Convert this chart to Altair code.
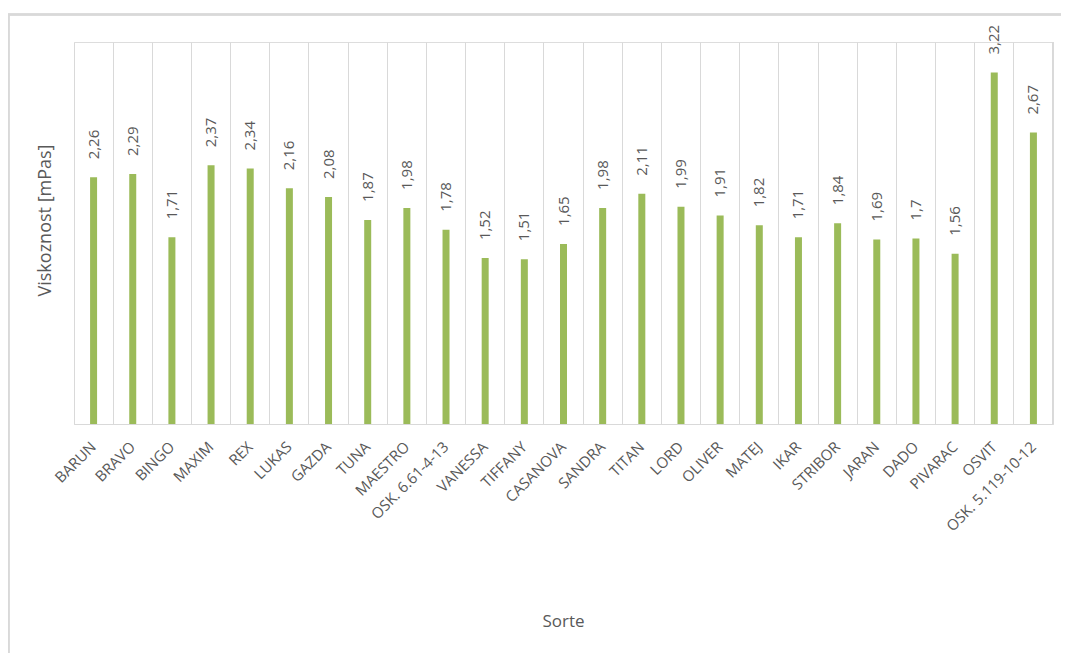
import altair as alt
import pandas as pd

sorte = ["BARUN", "BRAVO", "BINGO", "MAXIM", "REX", "LUKAS", "GAZDA", "TUNA",
         "MAESTRO", "OSK. 6.61-4-13", "VANESSA", "TIFFANY", "CASANOVA", "SANDRA",
         "TITAN", "LORD", "OLIVER", "MATEJ", "IKAR", "STRIBOR", "JARAN", "DADO",
         "PIVARAC", "OSVIT", "OSK. 5.119-10-12"]
viskoznost = [2.26, 2.29, 1.71, 2.37, 2.34, 2.16, 2.08, 1.87, 1.98, 1.78, 1.52,
              1.51, 1.65, 1.98, 2.11, 1.99, 1.91, 1.82, 1.71, 1.84, 1.69, 1.7,
              1.56, 3.22, 2.67]

df = pd.DataFrame({"Sorte": sorte, "v": viskoznost})

FONT = "Open Sans"
GREY = "#595959"
LINE = "#d9d9d9"
W, H = 979, 382

x = alt.X("Sorte:N", sort=sorte,
          scale=alt.Scale(paddingInner=0, paddingOuter=0),
          axis=alt.Axis(title="Sorte", labelAngle=-45, labelAlign="right",
                        labelBaseline="middle", labelPadding=20,
                        labelFont=FONT, labelFontSize=15, labelColor=GREY,
                        ticks=False, domainColor=LINE, grid=True,
                        gridColor=LINE, bandPosition=0, titleFont=FONT,
                        titleFontSize=17, titleColor=GREY, titleFontWeight="normal",
                        titleX=489, titleY=197, titleBaseline="middle",
                        titleAlign="center"))
y = alt.Y("v:Q", scale=alt.Scale(domain=[0, 3.5]),
          axis=alt.Axis(title="Viskoznost [mPas]", labels=False, ticks=False,
                        domain=False, grid=False, titleFont=FONT,
                        titleFontSize=18, titleColor=GREY,
                        titleFontWeight="normal", titleX=-29, titleY=178,
                        titleBaseline="middle", titleAlign="center",
                        titleAngle=270))

base = alt.Chart(df)
bars = base.mark_bar(size=7, color="#9bbb59").encode(x=x, y=y)
labels = base.transform_calculate(
    lab="replace(toString(datum.v), '.', ',')"
).mark_text(angle=270, align="left", baseline="middle", dx=18,
            font=FONT, fontSize=15, color=GREY).encode(
    x=alt.X("Sorte:N", sort=sorte), y="v:Q", text="lab:N")
right_line = base.mark_rule(color=LINE, strokeWidth=1).encode(
    x=alt.value(W), y=alt.value(0), y2=alt.value(H))
frame = base.mark_rect(fill=None, stroke=LINE, strokeWidth=1.5).encode(
    x=alt.value(-65.5), x2=alt.value(1200), y=alt.value(-27.5), y2=alt.value(900))

chart = alt.layer(frame, right_line, bars, labels).properties(
    width=W, height=H,
    autosize=alt.AutoSizeParams(type="none"),
    padding={"left": 66, "top": 34, "right": 8, "bottom": 229},
).configure_view(stroke=None).configure(background="white")

chart.save("out.html", embed_options={"renderer": "svg", "actions": False})
